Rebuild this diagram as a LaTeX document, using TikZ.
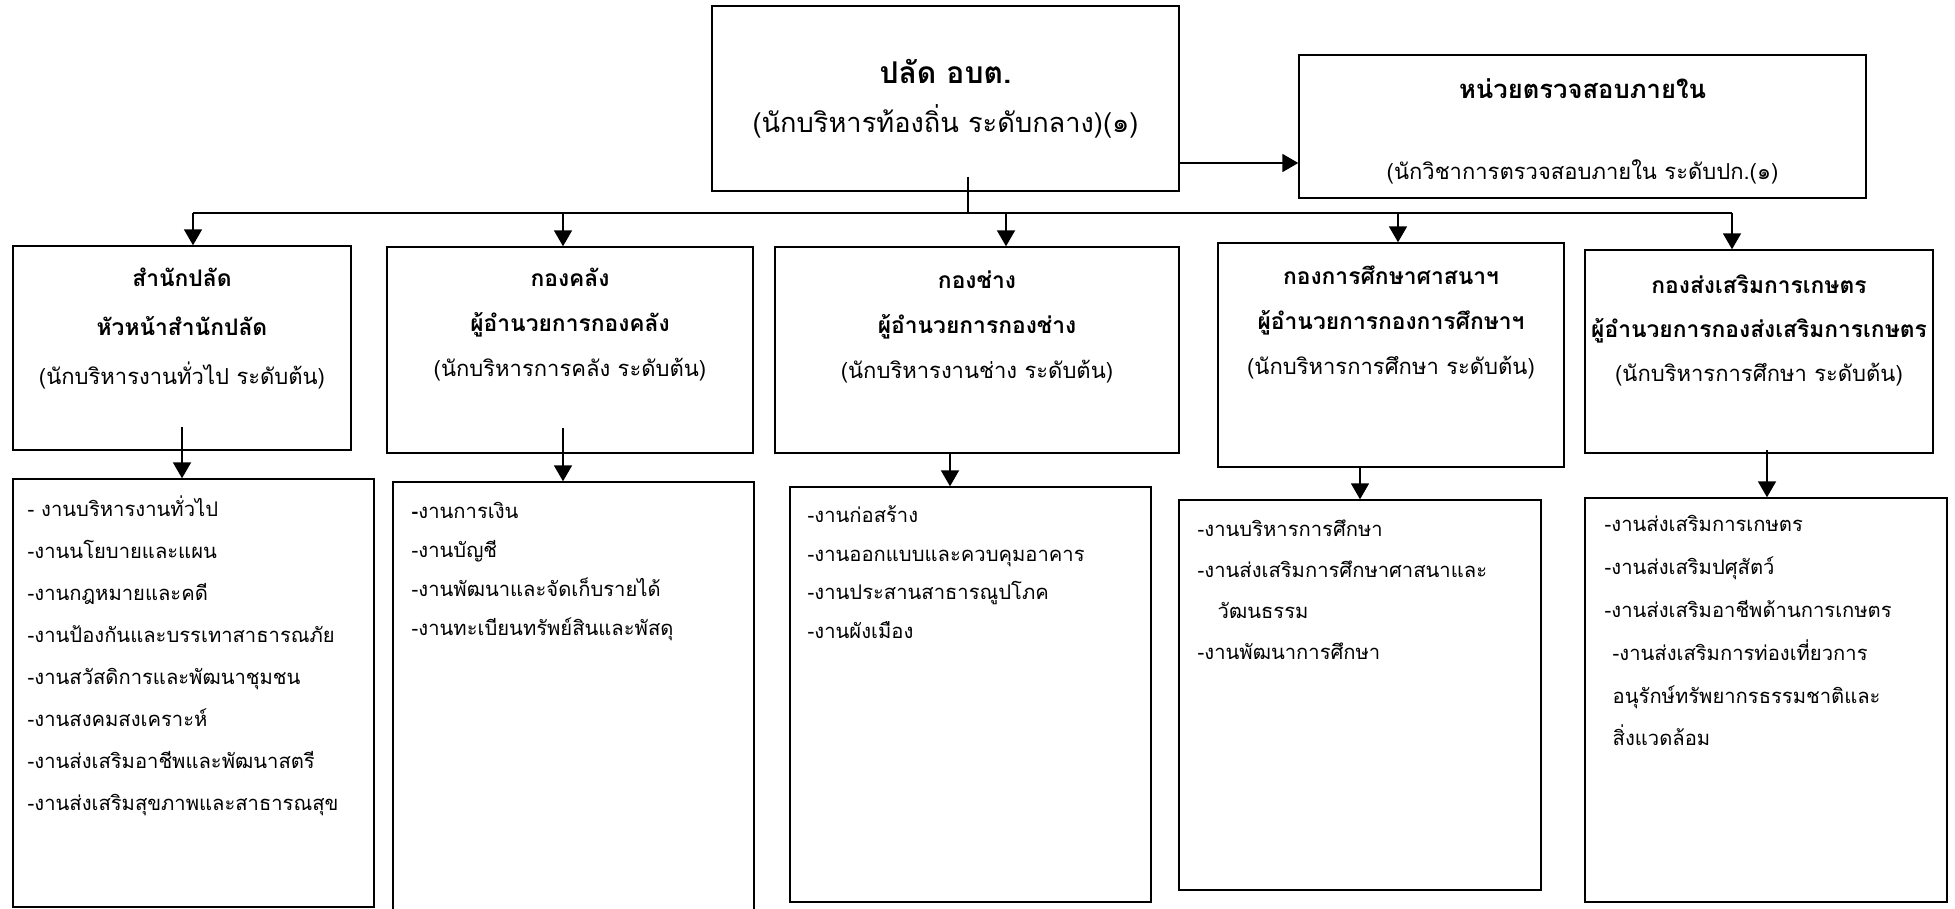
\documentclass[tikz,border=0pt]{standalone}
\usepackage{fontspec}
\newfontfamily\thaifont[Script=Thai]{Loma}
\usetikzlibrary{arrows.meta,positioning,fit}

% bold name of a unit, a bit larger than the post below it
\newcommand\unitname[2][11.4]{{\fontsize{#1}{22.5}\selectfont\bfseries #2}}

\begin{document}
\begin{tikzpicture}
[x=0.5pt, y=-0.5pt, font=\thaifont,
% STYLES
% The unit style is used to draw the box of each office
unit/.style={rectangle, draw, line width=0.7pt, inner sep=0pt},
% The head style is used to write the name and post inside a box
head/.style={inner sep=0pt, align=center, font=\thaifont\fontsize{11}{22.5}\selectfont},
% The duty style is used to list the work of each office
duty/.style={inner sep=0pt, align=left, font=\thaifont\fontsize{10.1}{21}\selectfont},
link/.style={line width=0.9pt},
arrow/.style={link, -{Triangle[width=9pt,length=8pt]}}]

\useasboundingbox (0,0) rectangle (1955,909);

% Draw units
\node [unit, fit={(712,6) (1179,191)}] (palad) {};
\node [unit, fit={(1299,55) (1866,198)}] (audit) {};
\node [unit, fit={(13,246) (351,450)}] (office) {};
\node [unit, fit={(387,247) (753,453)}] (finance) {};
\node [unit, fit={(775,247) (1179,453)}] (works) {};
\node [unit, fit={(1218,243) (1564,467)}] (education) {};
\node [unit, fit={(1585,250) (1933,453)}] (agri) {};

% Draw duties
\node [unit, fit={(13,479) (374,907)}] (office-duty) {};
\node [unit, fit={(393,482) (754,915)}] (finance-duty) {};
\node [unit, fit={(790,487) (1151,902)}] (works-duty) {};
\node [unit, fit={(1179,500) (1541,890)}] (education-duty) {};
\node [unit, fit={(1585,498) (1947,902)}] (agri-duty) {};

%%%%%%%%%%%%%%%
% Change data from here

% palad
\node [head, below=27pt of palad.north, font=\thaifont\fontsize{13.6}{24.5}\selectfont] (palad-text) {\unitname[15]{ปลัด อบต.}\\
(นักบริหารท้องถิ่น ระดับกลาง)(๑)};

% audit
\node [head, below=12pt of audit.north, font=\thaifont\fontsize{11}{40.5}\selectfont] (audit-text) {\unitname[12.8]{หน่วยตรวจสอบภายใน}\\
(นักวิชาการตรวจสอบภายใน ระดับปก.(๑)};

% office
\node [head, below=11pt of office.north, font=\thaifont\fontsize{11}{24.5}\selectfont] (office-text) {\unitname{สำนักปลัด}\\
\unitname{หัวหน้าสำนักปลัด}\\
(นักบริหารงานทั่วไป ระดับต้น)};

% finance
\node [head, below=10.5pt of finance.north] (finance-text) {\unitname{กองคลัง}\\
\unitname{ผู้อำนวยการกองคลัง}\\
(นักบริหารการคลัง ระดับต้น)};

% works
\node [head, below=12pt of works.north] (works-text) {\unitname{กองช่าง}\\
\unitname{ผู้อำนวยการกองช่าง}\\
(นักบริหารงานช่าง ระดับต้น)};

% education
\node [head, below=11.5pt of education.north] (education-text) {\unitname{กองการศึกษาศาสนาฯ}\\
\unitname{ผู้อำนวยการกองการศึกษาฯ}\\
(นักบริหารการศึกษา ระดับต้น)};

% agri
\node [head, below=12.5pt of agri.north, font=\thaifont\fontsize{11}{22}\selectfont] (agri-text) {\unitname{กองส่งเสริมการเกษตร}\\
\unitname{ผู้อำนวยการกองส่งเสริมการเกษตร}\\
(นักบริหารการศึกษา ระดับต้น)};

% duties
\node [duty, below right=8.5pt and 7.5pt of office-duty.north west] (office-list) {- งานบริหารงานทั่วไป\\
-งานนโยบายและแผน\\
-งานกฎหมายและคดี\\
-งานป้องกันและบรรเทาสาธารณภัย\\
-งานสวัสดิการและพัฒนาชุมชน\\
-งานสงคมสงเคราะห์\\
-งานส่งเสริมอาชีพและพัฒนาสตรี\\
-งานส่งเสริมสุขภาพและสาธารณสุข};

\node [duty, below right=10.5pt and 9.5pt of finance-duty.north west, font=\thaifont\fontsize{10.1}{19.5}\selectfont] (finance-list) {\textbf{-}งานการเงิน\\
-งานบัญชี\\
-งานพัฒนาและจัดเก็บรายได้\\
-งานทะเบียนทรัพย์สินและพัสดุ};

\node [duty, below right=9.5pt and 9pt of works-duty.north west, font=\thaifont\fontsize{10.1}{19.3}\selectfont] (works-list) {-งานก่อสร้าง\\
-งานออกแบบและควบคุมอาคาร\\
-งานประสานสาธารณูปโภค\\
-งานผังเมือง};

\node [duty, below right=10pt and 9.5pt of education-duty.north west, font=\thaifont\fontsize{10.1}{20.5}\selectfont] (education-list) {-งานบริหารการศึกษา\\
-งานส่งเสริมการศึกษาศาสนาและ\\
\hspace*{10pt}วัฒนธรรม\\
-งานพัฒนาการศึกษา};

\node [duty, below right=9pt and 10pt of agri-duty.north west, font=\thaifont\fontsize{10.1}{21.4}\selectfont] (agri-list) {-งานส่งเสริมการเกษตร\\
-งานส่งเสริมปศุสัตว์\\
-งานส่งเสริมอาชีพด้านการเกษตร\\
\hspace*{4pt}-งานส่งเสริมการท่องเที่ยวการ\\
\hspace*{4pt}อนุรักษ์ทรัพยากรธรรมชาติและ\\
\hspace*{4pt}สิ่งแวดล้อม};

%%%%%%%%%%%%%%%%

% Draw the links between units
\draw [arrow] ([yshift=-32.25pt]palad.east) -- ([yshift=-32.25pt]palad.east -| audit.west);

\coordinate (stem) at (968,213);
\draw [link] ([yshift=7.5pt]palad.south -| stem) -- (stem);
\coordinate (bus-l) at (193,213);
\coordinate (bus-r) at (1732,213);
\draw [link] (bus-l) -- (bus-r);

\foreach \x/\n in {193/office, 563/finance, 1006/works, 1398/education, 1732/agri}
  {\coordinate (bus-\n) at (\x,213);
   \draw [arrow] (bus-\n) -- (bus-\n |- \n.north);}

\foreach \x/\y/\n in {182/427/office, 563/428/finance, 950/453/works, 1360/467/education, 1767/450/agri}
  {\coordinate (drop-\n) at (\x,\y);
   \draw [arrow] (drop-\n) -- (drop-\n |- \n-duty.north);}

\end{tikzpicture}
\end{document}
